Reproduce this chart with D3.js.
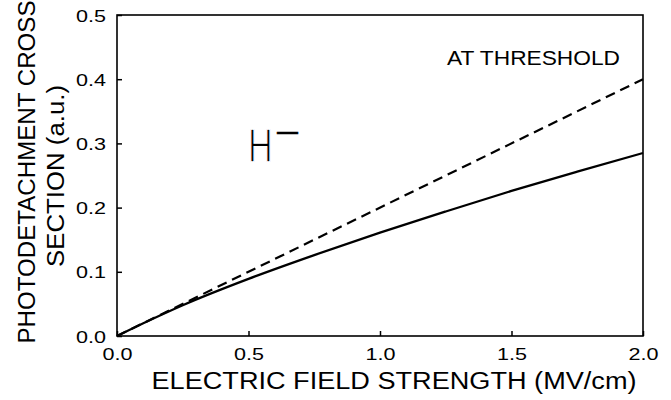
<!DOCTYPE html>
<html><head><meta charset="utf-8">
<script src="https://cdn.jsdelivr.net/npm/d3@7"></script>
<style>body{margin:0;background:#fff}svg{display:block}text{font-family:"Liberation Sans",Arial,sans-serif;fill:#000}</style>
</head><body><svg id="c" width="671" height="400"></svg>
<script>
const xTicks = [0, 0.5, 1.0, 1.5, 2.0];
const yTicks = [0, 0.1, 0.2, 0.3, 0.4, 0.5];
const fieldX = [0, 0.1, 0.25, 0.5, 0.75, 1.0, 1.25, 1.5, 1.75, 2.0];
const exactY = [0, 0.0199, 0.048, 0.089, 0.126, 0.161, 0.194, 0.226, 0.256, 0.285];
const thresholdX = [0, 2.0];
const thresholdY = [0, 0.4];

const svg = d3.select("#c");
const m = {l:117, r:643, t:15, b:336};
const x = d3.scaleLinear().domain([0,2]).range([m.l,m.r]);
const y = d3.scaleLinear().domain([0,0.5]).range([m.b,m.t]);

svg.append("rect").attr("x",m.l).attr("y",m.t).attr("width",m.r-m.l).attr("height",m.b-m.t)
  .attr("fill","none").attr("stroke","#000").attr("stroke-width",1.6);

const xa = svg.append("g").attr("transform",`translate(0,${m.b})`)
  .call(d3.axisBottom(x).tickValues(xTicks).tickSize(-5).tickPadding(12).tickFormat(d3.format(".1f")));
const ya = svg.append("g").attr("transform",`translate(${m.l},0)`)
  .call(d3.axisLeft(y).tickValues(yTicks).tickSize(-5).tickPadding(11).tickFormat(d3.format(".1f")));
[xa,ya].forEach(a=>{
  a.select(".domain").remove();
  a.selectAll(".tick line").attr("stroke","#000").attr("stroke-width",1.5);
  a.selectAll(".tick text").attr("font-size",17).attr("font-family","Liberation Sans, Arial, sans-serif")
   .attr("fill","#000").attr("textLength",30).attr("lengthAdjust","spacingAndGlyphs");
});
ya.selectAll(".tick text").attr("dy","0.36em");
xa.selectAll(".tick text").attr("dy","0.72em");

const line = d3.line().x(d=>x(d[0])).y(d=>y(d[1]));
svg.append("path").datum(thresholdX.map((v,i)=>[v,thresholdY[i]]))
  .attr("d",line).attr("fill","none").attr("stroke","#000").attr("stroke-width",2.2).attr("stroke-dasharray","10,6");
svg.append("path").datum(fieldX.map((v,i)=>[v,exactY[i]]))
  .attr("d",line.curve(d3.curveMonotoneX)).attr("fill","none").attr("stroke","#000").attr("stroke-width",2.2);

svg.append("text").attr("x",394).attr("y",389).attr("text-anchor","middle").attr("font-size",23)
  .attr("textLength",485).attr("lengthAdjust","spacingAndGlyphs").text("ELECTRIC FIELD STRENGTH (MV/cm)");
svg.append("text").attr("transform","translate(35,172) rotate(-90)").attr("text-anchor","middle").attr("font-size",23)
  .attr("textLength",343).attr("lengthAdjust","spacingAndGlyphs").text("PHOTODETACHMENT CROSS");
svg.append("text").attr("transform","translate(64,176) rotate(-90)").attr("text-anchor","middle").attr("font-size",23)
  .attr("textLength",182).attr("lengthAdjust","spacingAndGlyphs").text("SECTION (a.u.)");
svg.append("text").attr("x",447).attr("y",65).attr("font-size",21)
  .attr("textLength",173).attr("lengthAdjust","spacingAndGlyphs").text("AT THRESHOLD");
const h = svg.append("text").attr("transform","translate(248,162) scale(0.7,1)")
  .attr("font-size",49).attr("font-family","Liberation Sans, Arial, sans-serif");
h.append("tspan").attr("stroke","#fff").attr("stroke-width",1.6).text("H");
h.append("tspan").attr("dx",6).attr("dy",-21).attr("font-size",30).attr("stroke","#000").attr("stroke-width",0.6).text("—");
</script></body></html>
